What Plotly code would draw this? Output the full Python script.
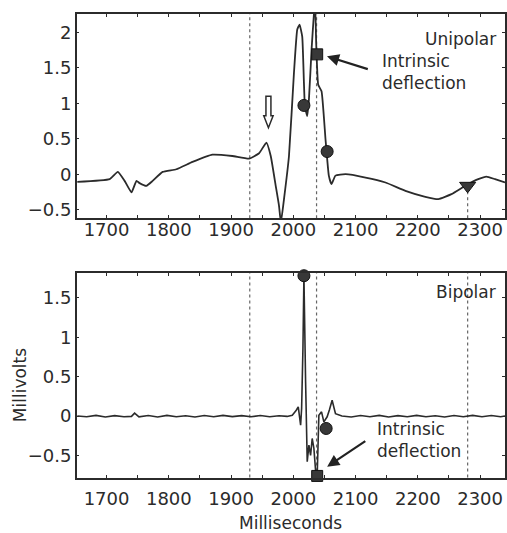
import plotly.graph_objects as go

# ---------------- data ----------------
uni_t = [1653, 1705, 1718, 1729, 1740, 1748, 1753, 1764, 1774, 1790, 1812, 1838, 1870,
         1902, 1929, 1945, 1956.7, 1963.7, 1971.7, 1977, 1980, 1985, 1993, 2001, 2006.3,
         2010, 2014.3, 2017, 2018.6, 2022.3, 2025, 2029.3, 2033, 2035, 2036.7, 2040,
         2045.3, 2051.7, 2057, 2061.3, 2067.7, 2084, 2116, 2148, 2180, 2212, 2233, 2254,
         2276, 2297, 2310, 2324, 2340]
uni_v = [-0.108, -0.07, 0.033, -0.094, -0.257, -0.094, -0.126, -0.164, -0.094, 0.033, 0.07,
         0.173, 0.276, 0.257, 0.22, 0.295, 0.445, 0.257, -0.164, -0.445, -0.68, -0.35,
         0.257, 1.43, 2.04, 2.11, 1.94, 1.29, 0.96, 0.82, 1.05, 1.76, 2.25, 2.4, 1.85, 1.26,
         1.17, 0.49, -0.02, -0.14, -0.02, 0.0, -0.047, -0.117, -0.234, -0.318, -0.351,
         -0.281, -0.164, -0.07, -0.033, -0.07, -0.117]

bip_t = [1653, 1668, 1683, 1698, 1713, 1728, 1740, 1745, 1752, 1767, 1782, 1797, 1812,
         1827, 1842, 1857, 1872, 1887, 1902, 1917, 1932, 1947, 1962, 1977, 1990, 1998.3,
         2004.7, 2007.9, 2011.7, 2013.3, 2015.4, 2017, 2019.7, 2022.3, 2025, 2027.7,
         2030.3, 2033, 2035.7, 2038.3, 2041, 2045.3, 2049, 2054.3, 2058, 2062.3, 2067.7,
         2078, 2093, 2108, 2123, 2138, 2153, 2168, 2183, 2198, 2213, 2228, 2243, 2258,
         2273, 2288, 2303, 2318, 2333, 2340]
bip_v = [0.0, -0.01, 0.008, -0.012, 0.005, -0.01, -0.005, 0.036, -0.01, 0.006, -0.012, 0.008,
         -0.01, 0.004, -0.012, 0.006, -0.01, 0.008, -0.008, 0.005, -0.01, 0.006, -0.01,
         0.004, -0.005, 0.01, 0.073, 0.116, -0.116, 0.095, 0.85, 1.78, 0.43, -0.58, -0.37,
         -0.5, -0.285, -0.41, -0.69, -0.76, 0.01, 0.053, -0.074, -0.01, 0.08, 0.2, 0.03,
         0.0, -0.012, 0.006, -0.01, 0.008, -0.012, 0.005, -0.01, 0.008, -0.01, 0.004,
         -0.012, 0.006, -0.01, 0.008, -0.01, 0.006, -0.01, 0.0]

uni_circle_t, uni_circle_v = [2017, 2054.3], [0.97, 0.32]
uni_square_t, uni_square_v = [2038.3], [1.69]
uni_tri_t, uni_tri_v = [2280], [-0.164]
bip_circle_t, bip_circle_v = [2017, 2052.7], [1.78, -0.158]
bip_square_t, bip_square_v = [2038.3], [-0.76]

vlines_top = [1930, 2037.3]
vlines_bottom = [1930, 2037.3, 2280]

x_range = [1652, 2340]
y_range_top = [-0.62, 2.26]
y_range_bottom = [-0.78, 1.815]

x_tick_vals = [1700, 1800, 1900, 2000, 2100, 2200, 2300]
y_tick_vals_top = [-0.5, 0, 0.5, 1, 1.5, 2]
y_tick_text_top = ["\u22120.5", "0", "0.5", "1", "1.5", "2"]
y_tick_vals_bottom = [-0.5, 0, 0.5, 1, 1.5]
y_tick_text_bottom = ["\u22120.5", "0", "0.5", "1", "1.5"]

hollow_arrow_t, hollow_arrow_top, hollow_arrow_bottom = 1960, 1.10, 0.656

INK = "#2b2b2b"
FONT = "DejaVu Sans"

fig = go.Figure()

fig.add_trace(go.Scatter(x=uni_t, y=uni_v, mode="lines",
                         line=dict(color=INK, width=1.8, shape="spline", smoothing=0.4),
                         xaxis="x", yaxis="y", showlegend=False))
fig.add_trace(go.Scatter(x=bip_t, y=bip_v, mode="lines", line=dict(color=INK, width=1.6),
                         xaxis="x2", yaxis="y2", showlegend=False))

mk_line = dict(color="#111111", width=1)
MK = "#383838"
fig.add_trace(go.Scatter(x=uni_circle_t, y=uni_circle_v, mode="markers", xaxis="x", yaxis="y",
                         marker=dict(symbol="circle", size=12, color=MK, line=mk_line),
                         showlegend=False))
fig.add_trace(go.Scatter(x=uni_square_t, y=uni_square_v, mode="markers", xaxis="x", yaxis="y",
                         marker=dict(symbol="square", size=11, color=MK, line=mk_line),
                         showlegend=False))
fig.add_trace(go.Scatter(x=uni_tri_t, y=uni_tri_v, mode="markers", xaxis="x", yaxis="y",
                         marker=dict(symbol="triangle-down", size=14, color=MK, line=mk_line),
                         showlegend=False))
fig.add_trace(go.Scatter(x=bip_circle_t, y=bip_circle_v, mode="markers", xaxis="x2", yaxis="y2",
                         marker=dict(symbol="circle", size=12, color=MK, line=mk_line),
                         showlegend=False, cliponaxis=False))
fig.add_trace(go.Scatter(x=bip_square_t, y=bip_square_v, mode="markers", xaxis="x2", yaxis="y2",
                         marker=dict(symbol="square", size=11, color=MK, line=mk_line),
                         showlegend=False, cliponaxis=False))

DOT = dict(color="#666666", width=1.2, dash="dot")
shapes = []
for xv in vlines_top:
    shapes.append(dict(type="line", xref="x", yref="y domain", x0=xv, x1=xv, y0=0, y1=1,
                       line=DOT, layer="below"))
shapes.append(dict(type="line", xref="x", yref="y", x0=uni_tri_t[0], x1=uni_tri_t[0],
                   y0=y_range_top[0], y1=uni_tri_v[0], line=DOT, layer="below"))
for xv in vlines_bottom:
    shapes.append(dict(type="line", xref="x2", yref="y2 domain", x0=xv, x1=xv, y0=0, y1=1,
                       line=DOT, layer="below"))

# hollow arrow
a, t, b = hollow_arrow_t, hollow_arrow_top, hollow_arrow_bottom
neck = b + (t - b) * 0.38
path = (f"M {a-4},{t} L {a+4},{t} L {a+4},{neck} L {a+7.5},{neck} L {a},{b} "
        f"L {a-7.5},{neck} L {a-4},{neck} Z")
shapes.append(dict(type="path", xref="x", yref="y", path=path, fillcolor="white",
                   line=dict(color=INK, width=1.5)))

TXT = dict(size=17, color=INK, family=FONT)
annotations = [
    dict(text="Unipolar", xref="paper", yref="paper", x=500/507, y=1-39.3/533,
         xanchor="right", yanchor="middle", showarrow=False, font=TXT),
    dict(text="Bipolar", xref="paper", yref="paper", x=500/507, y=1-292.7/533,
         xanchor="right", yanchor="middle", showarrow=False, font=TXT),
    dict(text="Intrinsic<br>deflection", xref="x", yref="y", x=2138.6, y=1.44,
         xanchor="left", yanchor="middle", align="left", showarrow=False, font=TXT),
    dict(text="Intrinsic<br>deflection", xref="x2", yref="y2", x=2130.6, y=-0.31,
         xanchor="left", yanchor="middle", align="left", showarrow=False, font=TXT),
    dict(text="", xref="x", yref="y", x=2054, y=1.662, axref="x", ayref="y", ax=2122, ay=1.475,
         showarrow=True, arrowhead=2, arrowsize=1.1, arrowwidth=2.2, arrowcolor="#222222"),
    dict(text="", xref="x2", yref="y2", x=2054.3, y=-0.643, axref="x2", ayref="y2", ax=2118, ay=-0.306,
         showarrow=True, arrowhead=2, arrowsize=1.1, arrowwidth=2.2, arrowcolor="#222222"),
    dict(text="Millivolts", xref="paper", yref="paper", x=20/507, y=1-386.7/533, textangle=-90,
         xanchor="center", yanchor="middle", showarrow=False, font=TXT),
    dict(text="Milliseconds", xref="paper", yref="paper", x=292/507, y=1-525/533,
         xanchor="center", yanchor="middle", showarrow=False, font=TXT),
]

axis_common = dict(showgrid=False, zeroline=False, showline=True, linecolor=INK, linewidth=1.5,
                   mirror="ticks", ticks="inside", ticklen=3, tickwidth=1, tickcolor=INK,
                   tickfont=dict(size=18, color=INK, family=FONT))

fig.update_layout(
    width=507, height=533, margin=dict(l=0, r=0, t=0, b=0),
    paper_bgcolor="white", plot_bgcolor="white",
    shapes=shapes, annotations=annotations, showlegend=False,
    xaxis=dict(domain=[77/507, 1], range=x_range, tickvals=x_tick_vals, anchor="y",
               ticklabelstandoff=-6,
               minor=dict(dtick=50, ticks="inside", ticklen=3, tickcolor=INK), **axis_common),
    yaxis=dict(domain=[1-219/533, 1-14/533], range=y_range_top, tickvals=y_tick_vals_top,
               ticktext=y_tick_text_top, anchor="x", **axis_common),
    xaxis2=dict(domain=[77/507, 1], range=x_range, tickvals=x_tick_vals, anchor="y2",
                ticklabelstandoff=4,
                minor=dict(dtick=50, ticks="inside", ticklen=3, tickcolor=INK), **axis_common),
    yaxis2=dict(domain=[1-479.3/533, 1-274/533], range=y_range_bottom, tickvals=y_tick_vals_bottom,
                ticktext=y_tick_text_bottom, anchor="x2", **axis_common),
)

fig.write_html("out.html", config={"displayModeBar": False},
               post_script="document.body.style.margin='0px';document.body.style.overflow='hidden';")
